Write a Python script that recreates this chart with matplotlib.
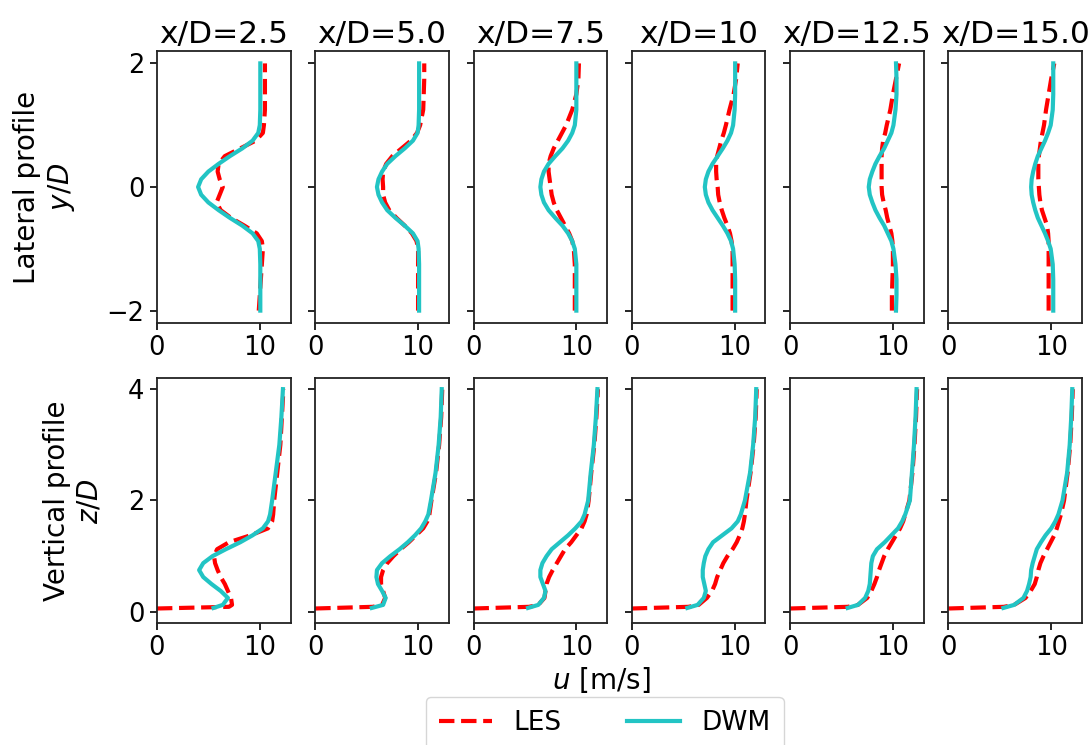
import matplotlib
matplotlib.use("Agg")
import matplotlib.pyplot as plt

# ---------------- data ----------------
titles = ["x/D=2.5", "x/D=5.0", "x/D=7.5", "x/D=10", "x/D=12.5", "x/D=15.0"]

y_lat = [-2.0, -1.75, -1.5, -1.25, -1.0, -0.875, -0.75, -0.625, -0.5, -0.375, -0.25, -0.125,
         0.0, 0.125, 0.25, 0.375, 0.5, 0.625, 0.75, 0.875, 1.0, 1.25, 1.5, 1.75, 2.0]

les_lat_1 = [9.9, 10.0, 10.1, 10.2, 10.3, 10.2, 9.7, 8.5, 7.2, 6.2, 5.8, 6.1,
             6.4, 6.1, 5.9, 6.0, 6.6, 8.1, 9.6, 10.3, 10.4, 10.5, 10.5, 10.5, 10.5]
les_lat_2 = [10.0, 10.0, 10.0, 10.0, 10.0, 9.85, 9.4, 8.7, 7.9, 7.2, 6.8, 6.6,
             6.6, 6.55, 6.6, 6.9, 7.5, 8.4, 9.3, 9.9, 10.2, 10.5, 10.55, 10.6, 10.6]
les_lat_3 = [9.85, 9.85, 9.85, 9.85, 9.75, 9.6, 9.3, 8.9, 8.5, 8.1, 7.8, 7.6,
             7.5, 7.4, 7.3, 7.3, 7.5, 7.8, 8.2, 8.6, 9.0, 9.6, 10.0, 10.2, 10.25]
les_lat_4 = [9.8, 9.8, 9.8, 9.8, 9.8, 9.7, 9.55, 9.3, 9.0, 8.75, 8.55, 8.4,
             8.35, 8.25, 8.2, 8.2, 8.3, 8.5, 8.7, 8.95, 9.15, 9.5, 9.9, 10.15, 10.3]
les_lat_5 = [9.9, 9.9, 9.95, 10.0, 10.0, 9.95, 9.85, 9.65, 9.45, 9.3, 9.1, 8.95,
             8.9, 8.9, 8.9, 8.9, 8.9, 8.95, 9.05, 9.25, 9.4, 9.75, 10.0, 10.3, 10.6]
les_lat_6 = [9.75, 9.75, 9.75, 9.75, 9.75, 9.75, 9.7, 9.6, 9.35, 9.1, 8.95, 8.85,
             8.8, 8.75, 8.75, 8.75, 8.8, 8.9, 9.0, 9.15, 9.3, 9.5, 9.75, 10.0, 10.3]

dwm_lat_1 = [10.05, 10.05, 10.05, 10.05, 10.0, 9.85, 9.3, 8.3, 7.1, 6.0, 5.0, 4.3,
             4.0, 4.3, 5.0, 6.0, 7.1, 8.3, 9.3, 9.85, 10.0, 10.05, 10.05, 10.05, 10.05]
dwm_lat_2 = [10.1, 10.1, 10.1, 10.1, 10.05, 9.95, 9.5, 8.7, 7.8, 7.0, 6.5, 6.15,
             6.0, 6.15, 6.5, 7.0, 7.8, 8.7, 9.5, 9.95, 10.05, 10.1, 10.1, 10.1, 10.1]
dwm_lat_3 = [10.0, 10.0, 10.0, 10.0, 9.85, 9.6, 9.2, 8.65, 7.95, 7.3, 6.85, 6.6,
             6.5, 6.6, 6.85, 7.3, 7.95, 8.65, 9.2, 9.6, 9.85, 10.0, 10.0, 10.0, 10.0]
dwm_lat_4 = [10.05, 10.05, 10.05, 10.0, 9.85, 9.65, 9.3, 8.85, 8.35, 7.85, 7.45, 7.2,
             7.1, 7.2, 7.45, 7.85, 8.35, 8.85, 9.3, 9.65, 9.85, 10.0, 10.05, 10.05, 10.05]
dwm_lat_5 = [10.3, 10.35, 10.35, 10.25, 10.05, 9.85, 9.5, 9.15, 8.7, 8.3, 8.0, 7.75,
             7.65, 7.75, 8.0, 8.3, 8.7, 9.15, 9.5, 9.85, 10.05, 10.25, 10.35, 10.35, 10.3]
dwm_lat_6 = [10.2, 10.2, 10.2, 10.15, 9.95, 9.7, 9.4, 9.05, 8.7, 8.45, 8.25, 8.1,
             8.05, 8.1, 8.25, 8.45, 8.7, 9.05, 9.4, 9.7, 9.95, 10.15, 10.2, 10.2, 10.2]

z_les = [0.06, 0.09, 0.125, 0.25, 0.375, 0.5, 0.625, 0.75, 0.875, 1.0, 1.125, 1.25,
         1.375, 1.5, 1.625, 1.75, 2.0, 2.5, 3.0, 3.5, 4.0]
z_dwm = [0.07, 0.125, 0.25, 0.375, 0.5, 0.625, 0.75, 0.875, 1.0, 1.125, 1.25,
         1.375, 1.5, 1.625, 1.75, 2.0, 2.5, 3.0, 3.5, 4.0]

les_vert_1 = [0.0, 7.0, 7.3, 7.2, 6.9, 6.6, 6.2, 5.9, 5.65, 5.55, 5.85, 7.0,
              9.1, 10.8, 11.2, 11.3, 11.4, 11.7, 12.0, 12.15, 12.3]
les_vert_2 = [0.0, 5.6, 6.5, 6.8, 6.6, 6.4, 6.4, 6.6, 7.0, 7.6, 8.3, 9.1,
              9.8, 10.5, 10.9, 11.1, 11.3, 11.75, 12.05, 12.25, 12.35]
les_vert_3 = [0.0, 5.4, 6.3, 6.9, 7.0, 7.1, 7.35, 7.7, 8.1, 8.5, 8.9, 9.5,
              10.0, 10.5, 10.8, 11.0, 11.2, 11.45, 11.75, 11.95, 12.1]
les_vert_4 = [0.0, 5.5, 6.5, 7.3, 7.8, 8.1, 8.3, 8.6, 8.9, 9.3, 9.8, 10.2,
              10.5, 10.75, 10.9, 11.0, 11.15, 11.55, 11.85, 12.05, 12.15]
les_vert_5 = [0.0, 5.6, 6.6, 7.5, 7.9, 8.2, 8.45, 8.65, 8.9, 9.15, 9.5, 9.9,
              10.3, 10.7, 11.0, 11.2, 11.6, 11.9, 12.1, 12.25, 12.35]
les_vert_6 = [0.0, 5.4, 6.4, 7.5, 8.0, 8.4, 8.6, 8.75, 8.95, 9.25, 9.6, 9.95,
              10.3, 10.55, 10.75, 10.95, 11.25, 11.6, 11.85, 12.0, 12.1]

dwm_vert_1 = [5.5, 6.4, 6.9, 6.2, 5.3, 4.5, 4.1, 4.5, 5.4, 6.7, 8.1,
              9.3, 10.3, 10.8, 11.0, 11.2, 11.55, 11.9, 12.1, 12.25]
dwm_vert_2 = [5.5, 6.6, 6.85, 6.5, 6.1, 5.95, 6.0, 6.5, 7.3, 8.2, 9.0,
              9.7, 10.3, 10.7, 11.0, 11.25, 11.7, 12.0, 12.2, 12.3]
dwm_vert_3 = [5.3, 6.3, 6.85, 7.0, 6.75, 6.5, 6.5, 6.7, 7.1, 7.6, 8.4,
              9.2, 9.9, 10.5, 10.8, 11.15, 11.4, 11.7, 11.9, 12.05]
dwm_vert_4 = [5.4, 6.4, 7.0, 7.2, 7.05, 6.9, 6.9, 7.0, 7.15, 7.45, 7.9,
              8.8, 9.7, 10.3, 10.6, 11.0, 11.5, 11.8, 12.0, 12.1]
dwm_vert_5 = [5.6, 6.6, 7.3, 7.6, 7.75, 7.8, 7.85, 7.9, 8.05, 8.45, 9.2,
              9.85, 10.5, 10.9, 11.2, 11.65, 11.85, 12.05, 12.2, 12.3]
dwm_vert_6 = [5.35, 6.4, 7.3, 7.65, 7.85, 8.0, 8.05, 8.2, 8.4, 8.6, 9.0,
              9.45, 10.0, 10.4, 10.7, 11.1, 11.55, 11.8, 11.95, 12.05]

les_lat = [les_lat_1, les_lat_2, les_lat_3, les_lat_4, les_lat_5, les_lat_6]
dwm_lat = [dwm_lat_1, dwm_lat_2, dwm_lat_3, dwm_lat_4, dwm_lat_5, dwm_lat_6]
les_vert = [les_vert_1, les_vert_2, les_vert_3, les_vert_4, les_vert_5, les_vert_6]
dwm_vert = [dwm_vert_1, dwm_vert_2, dwm_vert_3, dwm_vert_4, dwm_vert_5, dwm_vert_6]

lat_yticks = [-2, 0, 2]
vert_yticks = [0, 2, 4]
u_ticks = [0, 10]

# ---------------- plot ----------------
FS_TICK = 18.5
FS_LAB = 20
plt.rcParams['font.family'] = ['DejaVu Sans']
fig = plt.figure(figsize=(10.9, 7.45), dpi=100)
gs = fig.add_gridspec(2, 6, left=0.144, right=0.9927, top=0.9315, bottom=0.1638,
                      wspace=0.184, hspace=0.213, height_ratios=[272, 245])

LES_KW = dict(color='red', linestyle='--', linewidth=3.0)
DWM_KW = dict(color='#22c4c4', linestyle='-', linewidth=3.0)

handles = None
for i in range(6):
    ax1 = fig.add_subplot(gs[0, i])
    ax2 = fig.add_subplot(gs[1, i])
    l1, = ax1.plot(les_lat[i], y_lat, label='LES', **LES_KW)
    l2, = ax1.plot(dwm_lat[i], y_lat, label='DWM', **DWM_KW)
    ax2.plot(les_vert[i], z_les, **LES_KW)
    ax2.plot(dwm_vert[i], z_dwm, **DWM_KW)
    handles = [l1, l2]
    ax1.set_title(titles[i], fontsize=22.5, pad=6)
    for ax, yt, yl in ((ax1, lat_yticks, (-2.2, 2.2)), (ax2, vert_yticks, (-0.2, 4.2))):
        ax.set_xlim(0, 13)
        ax.set_ylim(*yl)
        ax.set_xticks(u_ticks)
        ax.set_yticks(yt)
        ax.tick_params(labelsize=FS_TICK, length=5, width=1.2, pad=4)
        for s in ax.spines.values():
            s.set_linewidth(1.3)
            s.set_color('#222222')
        if i > 0:
            ax.set_yticklabels([])
    if i == 0:
        ax1.set_ylabel('Lateral profile\n$y/D$', fontsize=FS_LAB)
        ax1.yaxis.set_label_coords(-0.60, 0.5)
        ax2.set_ylabel('Vertical profile\n$z/D$', fontsize=FS_LAB)
        ax2.yaxis.set_label_coords(-0.40, 0.5)

fig.text(0.552, 0.087, '$u$ [m/s]', fontsize=FS_LAB, ha='center', va='center')
fig.legend(handles, ['LES', 'DWM'], loc='upper center', bbox_to_anchor=(0.555, 0.0644),
           ncol=2, fontsize=19, frameon=True, handlelength=2.0, columnspacing=2.5,
           borderpad=0.5, borderaxespad=0.0)

fig.savefig('out.png', dpi=100)
